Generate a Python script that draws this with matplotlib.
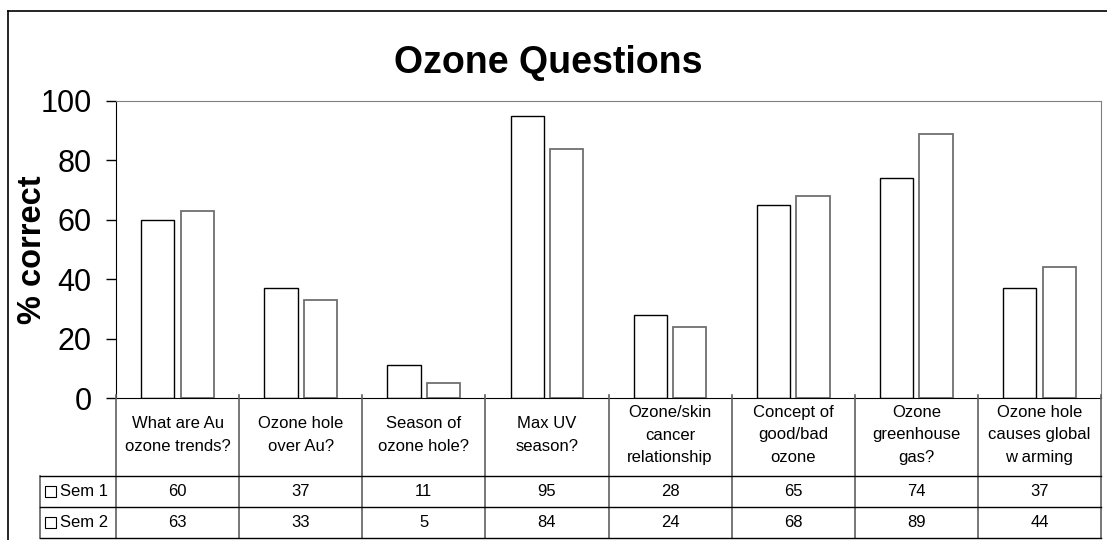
import numpy as np
import matplotlib
matplotlib.use("Agg")
import matplotlib.pyplot as plt
from matplotlib.lines import Line2D
from matplotlib.patches import Rectangle

plt.rcParams['font.family'] = ['Liberation Sans', 'DejaVu Sans']

# data
categories = ["What are Au\nozone trends?", "Ozone hole\nover Au?", "Season of\nozone hole?",
              "Max UV\nseason?", "Ozone/skin\ncancer\nrelationship", "Concept of\ngood/bad\nozone",
              "Ozone\ngreenhouse\ngas?", "Ozone hole\ncauses global\nw arming"]
series_names = ["Sem 1", "Sem 2"]
sem1 = [60, 37, 11, 95, 28, 65, 74, 37]
sem2 = [63, 33, 5, 84, 24, 68, 89, 44]
yticks = [0, 20, 40, 60, 80, 100]

W, H = 1107, 540
fig = plt.figure(figsize=(W / 100, H / 100), dpi=100)

# plot area in pixels
L, R, T, B = 116, 1101, 101, 398
ax = fig.add_axes([L / W, 1 - B / H, (R - L) / W, (B - T) / H])
x = np.arange(len(categories))
ax.bar(x - 0.16, sem1, width=0.27, color='white', edgecolor='black', linewidth=1.0)
ax.bar(x + 0.16, sem2, width=0.27, color='white', edgecolor='#707070', linewidth=1.3)
ax.set_xlim(-0.5, len(categories) - 0.5)
ax.set_ylim(0, 100)
ax.set_yticks(yticks)
ax.set_xticks([])
ax.tick_params(axis='y', labelsize=22, length=7.5, width=1, direction='out', pad=10)
for s in ['top', 'right']:
    ax.spines[s].set_color('#808080')
ax.spines['left'].set_color('black')
ax.spines['bottom'].set_color('black')

fig.text(548 / W, 1 - 63 / H, "Ozone Questions", ha='center', va='center',
         fontsize=27, fontweight='bold')
fig.text(33 / W, 1 - 250 / H, "% correct", ha='center', va='center',
         rotation=90, fontsize=23.5, fontweight='bold')

# data table under the axis
TL, TB = 40, 538
cw = (R - L) / len(categories)
tax = fig.add_axes([TL / W, 1 - TB / H, (R - TL) / W, (TB - B) / H])
xmin = -0.5 - (L - TL) / cw
tax.set_xlim(xmin, len(categories) - 0.5)
tax.set_ylim(TB, B)
tax.axis('off')

def px(p):
    return xmin + (p - TL) / cw

row_top = 476
row_mid = 507
vcol = '#606060'
for i in range(len(categories) + 1):
    tax.add_line(Line2D([i - 0.5, i - 0.5], [B - 3, TB], color=vcol, lw=1.2, clip_on=False))
tax.add_line(Line2D([xmin, xmin], [row_top, TB], color=vcol, lw=1.2, clip_on=False))
for yy in [row_top, row_mid, TB]:
    tax.add_line(Line2D([xmin, len(categories) - 0.5], [yy, yy], color='black', lw=1.0, clip_on=False))

for i, lab in enumerate(categories):
    tax.text(i, 435, lab, ha='center', va='center', fontsize=12, linespacing=1.6)

rows = [sem1, sem2]
centers = [(row_top + row_mid) / 2, (row_mid + TB) / 2]
for name, vals, cy in zip(series_names, rows, centers):
    for i, v in enumerate(vals):
        tax.text(i, cy, str(v), ha='center', va='center', fontsize=12)
    tax.add_patch(Rectangle((px(45), cy - 5.5), px(56) - px(45), 11, facecolor='white',
                            edgecolor='black', lw=0.8, clip_on=False))
    tax.text(px(60), cy, name, ha='left', va='center', fontsize=12)

# outer chart frame
fig.add_artist(Line2D([8 / W, 8 / W], [1 - 11 / H, 0], color='black', lw=1.2))
fig.add_artist(Line2D([8 / W, 1], [1 - 11 / H, 1 - 11 / H], color='black', lw=1.2))

fig.savefig("out.png", dpi=100)
